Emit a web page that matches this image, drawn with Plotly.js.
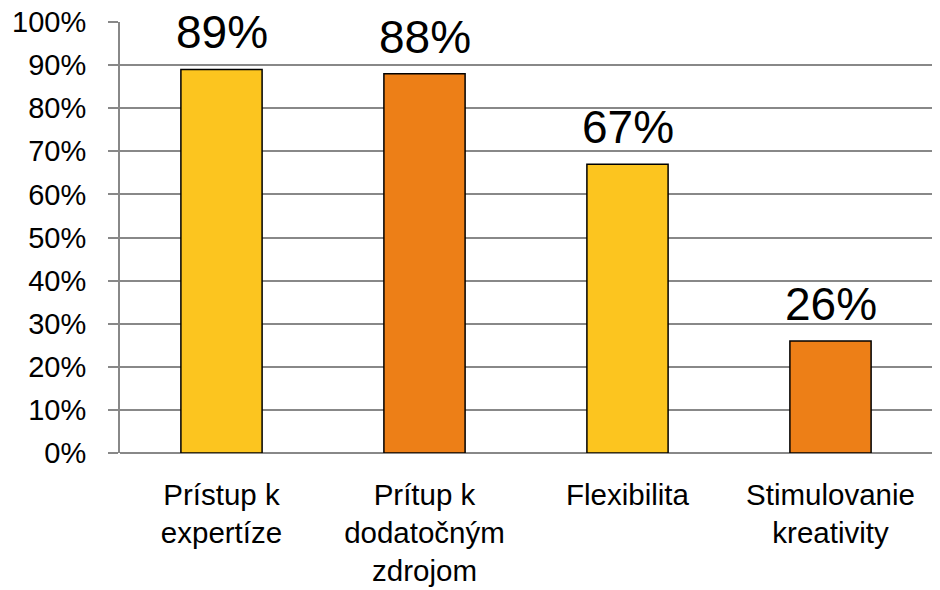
<!DOCTYPE html>
<html>
<head>
<meta charset="utf-8">
<script src="https://cdn.plot.ly/plotly-3.0.1.min.js"></script>
<style>html,body{margin:0;padding:0;background:#fff;}#chart{width:940px;height:590px;}</style>
</head>
<body>
<div id="chart"></div>
<script>
const categories = ["Prístup k<br>expertíze", "Prítup k<br>dodatočným<br>zdrojom", "Flexibilita", "Stimulovanie<br>kreativity"];
const values = [89, 88, 67, 26];
const barColors = ["#FCC51F", "#ED7F17", "#FCC51F", "#ED7F17"];
const yTickVals = [0,10,20,30,40,50,60,70,80,90,100];
const yTickText = yTickVals.map(v => v + "%");

const FONT = "Liberation Sans, Arial, sans-serif";

const trace = {
  type: "bar",
  x: categories,
  y: values,
  marker: {color: barColors, line: {color: "#000", width: 1.5}},
  hoverinfo: "none"
};

const annotations = categories.map((c, i) => ({
  x: c, y: values[i], xref: "x", yref: "y",
  text: values[i] + "%", showarrow: false,
  yanchor: "bottom", xanchor: "center", yshift: 9,
  font: {family: FONT, size: 46, color: "#000"}
}));

const layout = {
  width: 940, height: 590,
  margin: {l: 120, r: 8, t: 22, b: 137},
  paper_bgcolor: "#fff", plot_bgcolor: "#fff",
  bargap: 0.6,
  showlegend: false,
  font: {family: FONT, color: "#000", size: 29},
  annotations: annotations,
  xaxis: {
    showgrid: false, zeroline: false, showline: false,
    ticks: "", ticklabelstandoff: 21,
    tickfont: {family: FONT, size: 29.5, color: "#000"}
  },
  yaxis: {
    range: [0, 100], fixedrange: true,
    tickvals: yTickVals, ticktext: yTickText,
    showgrid: true, gridcolor: "#888", gridwidth: 2,
    zeroline: true, zerolinecolor: "#888", zerolinewidth: 2,
    showline: true, linecolor: "#888", linewidth: 2,
    ticks: "outside", ticklen: 10, tickcolor: "#888", tickwidth: 2,
    tickfont: {family: FONT, size: 29, color: "#000"}, ticklabelstandoff: 16
  }
};

Plotly.newPlot("chart", [trace], layout, {displayModeBar: false, staticPlot: true});
</script>
</body>
</html>
